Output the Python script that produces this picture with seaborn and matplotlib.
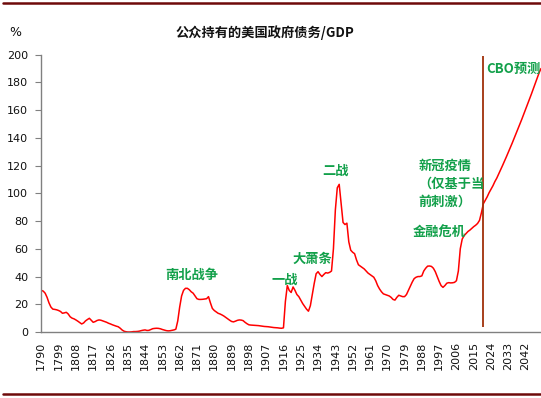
import numpy as np
import pandas as pd
import matplotlib
matplotlib.use("Agg")
import matplotlib.pyplot as plt
from matplotlib.lines import Line2D
import seaborn as sns

# ---------------- data ----------------
years = list(range(1790, 2051))
debt_1790s = [30.0, 29.5, 28.0, 25.0, 21.0, 18.0, 16.5, 16.3, 16.0, 15.5]
debt_1800s = [14.8, 13.5, 13.8, 14.2, 13.0, 11.0, 10.0, 9.5, 8.7, 7.8]
debt_1810s = [6.8, 5.8, 6.5, 8.0, 9.0, 9.9, 8.5, 7.0, 7.5, 8.3]
debt_1820s = [8.7, 8.5, 8.0, 7.5, 7.0, 6.3, 5.8, 5.2, 4.7, 4.2]
debt_1830s = [3.8, 2.8, 1.5, 0.6, 0.2, 0.0, 0.0, 0.1, 0.3, 0.3]
debt_1840s = [0.4, 0.6, 1.0, 1.3, 1.5, 1.1, 1.2, 1.8, 2.4, 2.6]
debt_1850s = [2.7, 2.6, 2.3, 1.8, 1.4, 1.0, 0.8, 0.9, 1.2, 1.5]
debt_1860s = [2.0, 8.0, 18.0, 26.0, 30.0, 31.5, 31.5, 30.5, 29.0, 28.0]
debt_1870s = [26.0, 24.0, 23.5, 23.5, 23.6, 23.8, 24.0, 25.5, 21.0, 17.0]
debt_1880s = [15.5, 14.5, 13.5, 13.0, 12.3, 11.5, 10.5, 9.5, 8.5, 7.6]
debt_1890s = [7.3, 7.8, 8.4, 8.7, 8.6, 8.2, 7.0, 6.0, 5.2, 5.0]
debt_1900s = [4.9, 4.8, 4.7, 4.6, 4.4, 4.2, 4.0, 3.9, 3.8, 3.6]
debt_1910s = [3.4, 3.2, 3.1, 3.0, 2.8, 2.7, 3.0, 22.0, 33.5, 30.0]
debt_1920s = [28.5, 32.5, 30.0, 27.0, 25.5, 23.0, 20.5, 18.5, 16.5, 15.0]
debt_1930s = [19.0, 27.0, 35.0, 42.0, 43.5, 41.5, 40.0, 41.5, 42.8, 42.5]
debt_1940s = [43.0, 44.0, 60.0, 88.0, 104.0, 106.5, 93.0, 79.0, 77.5, 78.5]
debt_1950s = [65.0, 59.0, 57.5, 56.5, 52.0, 48.5, 47.5, 46.5, 45.5, 44.0]
debt_1960s = [42.5, 41.5, 40.5, 39.5, 37.0, 33.5, 31.0, 29.0, 27.5, 27.0]
debt_1970s = [26.5, 26.0, 25.0, 23.5, 23.0, 25.0, 26.5, 26.0, 25.5, 25.5]
debt_1980s = [27.0, 30.0, 33.0, 36.0, 38.5, 39.5, 40.0, 40.0, 40.5, 44.0]
debt_1990s = [46.0, 47.5, 47.6, 47.3, 46.0, 43.5, 40.0, 36.5, 33.5, 32.2]
debt_2000s = [33.5, 35.2, 35.6, 35.4, 35.5, 35.8, 37.0, 44.0, 60.0, 67.0]
debt_2010s = [69.5, 71.0, 72.5, 73.5, 74.8, 76.0, 77.0, 78.3, 80.5, 86.0]
debt_2020s = [92.5, 95.0, 97.5, 100.5, 103.0, 105.5, 108.5, 111.0, 114.0, 117.0]
debt_2030s = [120.1, 123.2, 126.4, 129.6, 132.9, 136.2, 139.6, 143.0, 146.4, 149.9]
debt_2040s = [153.4, 157.0, 160.6, 164.2, 167.9, 171.6, 175.4, 179.2, 183.0, 186.9]
debt_2050 = [190.0]

debt = (debt_1790s + debt_1800s + debt_1810s + debt_1820s + debt_1830s + debt_1840s
        + debt_1850s + debt_1860s + debt_1870s + debt_1880s + debt_1890s + debt_1900s
        + debt_1910s + debt_1920s + debt_1930s + debt_1940s + debt_1950s + debt_1960s
        + debt_1970s + debt_1980s + debt_1990s + debt_2000s + debt_2010s + debt_2020s
        + debt_2030s + debt_2040s + debt_2050)

x_tick_labels = [str(y) for y in range(1790, 2043, 9)]
y_ticks = [0, 20, 40, 60, 80, 100, 120, 140, 160, 180, 200]
forecast_start = 2020

title = "公众持有的美国政府债务/GDP"
unit = "%"
ann_texts = ["南北战争", "一战", "大萧条", "二战", "金融危机"]
ann_pos = [(1868.1, 41.1), (1916.8, 38.0), (1931.1, 53.1), (1943.3, 116.3), (1997.3, 71.2)]
cbo_text = "CBO预测"
cbo_pos = (2021.4, 190.1)
covid_text = "新冠疫情\n（仅基于当\n前刺激）"
covid_pos = (1986.2, 107.1)

df = pd.DataFrame({"year": years, "debt": debt})

# ---------------- style ----------------
sns.set_style("white")
plt.rcParams["font.family"] = ["DejaVu Sans", "Noto Sans CJK SC"]
cjk = ["Noto Sans CJK SC", "DejaVu Sans"]

fig = plt.figure(figsize=(5.41, 3.98), dpi=100)
ax = fig.add_axes([41.3 / 541, 66 / 398, (541 - 41.3) / 541, (332 - 54.7) / 398])

sns.lineplot(data=df, x="year", y="debt", ax=ax, color="#ff0000", linewidth=1.1)

ax.vlines(forecast_start, 3.5, 199, color="#a0300a", linewidth=1.3)

ax.set_xlim(1790, 2050)
ax.set_ylim(0, 200)
ax.set_xticks([int(t) for t in x_tick_labels])
ax.set_xticklabels(x_tick_labels, rotation=90, fontsize=8, color="#111111")
ax.set_yticks(y_ticks)
ax.set_yticklabels([str(v) for v in y_ticks], fontsize=8, color="#111111")
ax.tick_params(axis="x", length=0, pad=7)
ax.tick_params(axis="y", length=4, width=0.8, color="#808080", pad=5.5, left=True)
ax.set_xlabel("")
ax.set_ylabel("")
for s in ["top", "right"]:
    ax.spines[s].set_visible(False)
for s in ["left", "bottom"]:
    ax.spines[s].set_color("#808080")
    ax.spines[s].set_linewidth(1.0)
ax.spines["left"].set_zorder(5)

green = "#12a04a"
for txt, (x, y) in zip(ann_texts, ann_pos):
    ax.text(x, y, txt, family=cjk, fontsize=9.5, fontweight="bold", color=green,
            ha="center", va="center")
ax.text(cbo_pos[0], cbo_pos[1], cbo_text, family=cjk, fontsize=9.5, fontweight="bold",
        color=green, ha="left", va="center")
ax.text(covid_pos[0], covid_pos[1], covid_text, family=cjk, fontsize=9.5, fontweight="bold",
        color=green, ha="left", va="center", linespacing=1.35)

fig.text(264.5 / 541, 1 - 33 / 398, title, family=cjk, fontsize=9.5, fontweight="bold",
         ha="center", va="center", color="#111111")
fig.text(15 / 541, 1 - 33 / 398, unit, fontsize=9, ha="center", va="center", color="#111111")

border = "#6e0a0a"
fig.add_artist(Line2D([3 / 541, 1.0], [1 - 3 / 398, 1 - 3 / 398], color=border, linewidth=1.8))
fig.add_artist(Line2D([3 / 541, 1.0], [1 - 394 / 398, 1 - 394 / 398], color=border, linewidth=1.8))

fig.savefig("out.png", dpi=100)
